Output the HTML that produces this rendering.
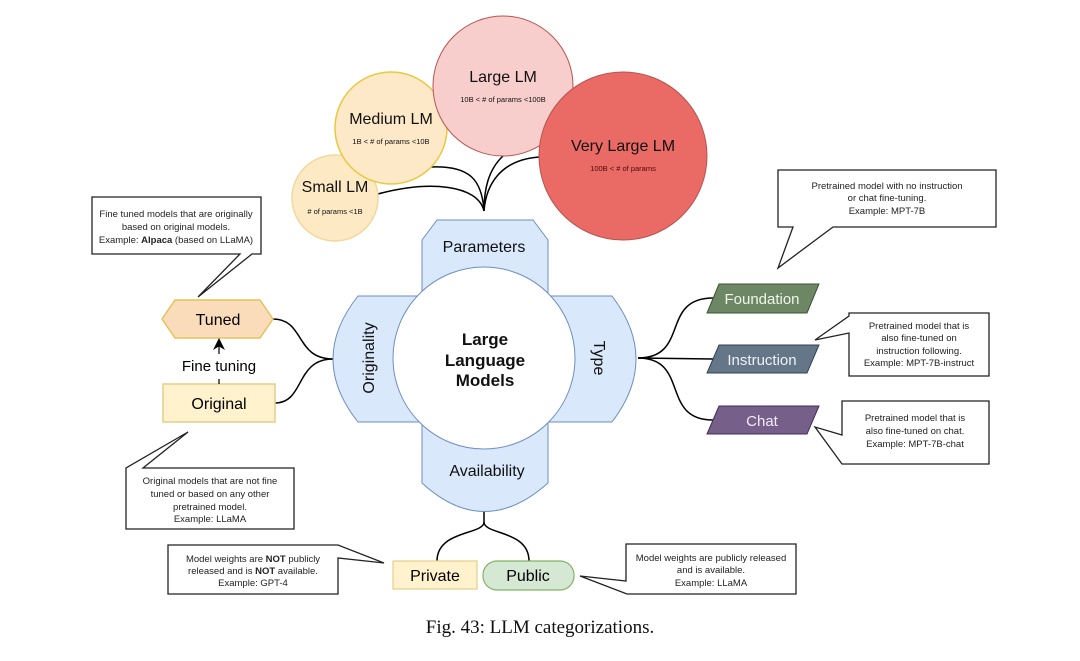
<!DOCTYPE html>
<html><head><meta charset="utf-8"><style>
html,body{margin:0;padding:0;background:#fff;}
svg{display:block;font-family:"Liberation Sans",sans-serif;}
</style></head><body>
<svg width="1080" height="661" viewBox="0 0 1080 661" xmlns="http://www.w3.org/2000/svg">
<rect width="1080" height="661" fill="#fff"/>
<defs><marker id="ah" markerWidth="10" markerHeight="10" refX="5" refY="5" orient="auto"><path d="M0,0 L10,5 L0,10 L3,5 Z" fill="#000"/></marker></defs>

<!-- parameter connectors -->
<g fill="none" stroke="#000" stroke-width="1.5">
<path d="M378,194 C430,180 478,185 484,211"/>
<path d="M430,167 C470,165 482,180 484,211"/>
<path d="M503,156 C488,170 484,190 484,211"/>
<path d="M539,157 C500,160 486,185 484,211"/>
<!-- originality -->
<path d="M273,319 C305,319 295,359 333,359"/>
<path d="M275,403 C305,403 295,359 333,359"/>
<!-- type -->
<path d="M638,358 C690,358 660,298 713,298"/>
<path d="M638,358 L713,359"/>
<path d="M638,358 C690,358 660,420 713,420"/>
<!-- availability -->
<path d="M484,511 L484,522 C484,535 437,530 437,561"/>
<path d="M484,522 C484,535 529,530 529,561"/>
</g>

<!-- circles -->
<circle cx="335" cy="198" r="43" fill="#fdeac5" stroke="#f2d89a" stroke-width="1.5"/>
<circle cx="391" cy="128" r="56" fill="#fde8c8" stroke="#e8c840" stroke-width="1.5"/>
<circle cx="503" cy="86" r="70" fill="#f8cecc" stroke="#b85450" stroke-width="1"/>
<circle cx="623" cy="156" r="84" fill="#ea6b66" stroke="#b85450" stroke-width="1"/>
<g text-anchor="middle" fill="#111">
<text x="335" y="192" font-size="16">Small LM</text>
<text x="335" y="214" font-size="7.5">#  of params &lt;1B</text>
<text x="391" y="124" font-size="16">Medium LM</text>
<text x="391" y="144" font-size="7.5">1B &lt; # of params &lt;10B</text>
<text x="503" y="82" font-size="16">Large LM</text>
<text x="503" y="102" font-size="7.5">10B &lt; # of params &lt;100B</text>
<text x="623" y="151" font-size="16">Very Large LM</text>
<text x="623" y="171" font-size="7.5" fill="#4a0a0a">100B &lt; # of params</text>
</g>

<!-- center cross -->
<path d="M437,220 L533,220 L548,240 L548,296 L612,296 Q660,359 612,422 L548,422 L548,483 Q484,540 422,483 L422,422 L358,422 Q308,359 358,296 L422,296 L422,240 Z" fill="#dae8fc" stroke="#6c8ebf" stroke-width="1"/>
<circle cx="484" cy="358" r="91" fill="#fff" stroke="#6c8ebf" stroke-width="1"/>
<g text-anchor="middle" fill="#111" font-size="16">
<text x="484" y="252">Parameters</text>
<text x="487" y="476">Availability</text>
<text transform="translate(374,358) rotate(-90)">Originality</text>
<text transform="translate(594,358) rotate(90)">Type</text>
<g font-weight="bold" font-size="17">
<text x="485" y="345">Large</text>
<text x="485" y="366">Language</text>
<text x="485" y="386">Models</text>
</g>
</g>

<!-- left nodes -->
<path d="M175,300 L260,300 L273,319 L260,338 L175,338 L162,319 Z" fill="#fbdcba" stroke="#e3c35a" stroke-width="1.5"/>
<text x="218" y="325" font-size="16" text-anchor="middle">Tuned</text>
<rect x="163" y="384" width="112" height="38" fill="#fff2cc" stroke="#e3cf8a" stroke-width="1.5"/>
<text x="219" y="409" font-size="16" text-anchor="middle">Original</text>
<line x1="219" y1="384" x2="219" y2="379" stroke="#000" stroke-width="1.2"/>
<line x1="219" y1="354" x2="219" y2="344" stroke="#000" stroke-width="1.2" marker-end="url(#ah)"/>
<text x="219" y="371" font-size="15" text-anchor="middle">Fine tuning</text>

<!-- right nodes -->
<path d="M719,284 L819,284 L807,313 L707,313 Z" fill="#6d8764" stroke="#3a5431"/>
<text x="762" y="304" font-size="15" text-anchor="middle" fill="#eef5ea">Foundation</text>
<path d="M719,345 L819,345 L807,373 L707,373 Z" fill="#647687" stroke="#314354"/>
<text x="762" y="365" font-size="15" text-anchor="middle" fill="#eef2f6">Instruction</text>
<path d="M719,406 L819,406 L807,434 L707,434 Z" fill="#76608a" stroke="#432d57"/>
<text x="762" y="426" font-size="15" text-anchor="middle" fill="#f2eaf8">Chat</text>

<!-- bottom nodes -->
<rect x="393" y="561" width="84" height="28" fill="#fff2cc" stroke="#e3cf8a" stroke-width="1.2"/>
<text x="435" y="581" font-size="16" text-anchor="middle">Private</text>
<rect x="483" y="561" width="91" height="29" rx="14" fill="#d5e8d4" stroke="#82b366" stroke-width="1.2"/>
<text x="528" y="581" font-size="16" text-anchor="middle">Public</text>

<!-- callouts -->
<g fill="#fff" stroke="#222" stroke-width="1.3">
<path d="M92,197 H261 V254 H252 L198,297 L240,254 H92 Z"/>
<path d="M126,468 L188,432 L143,468 H294 V529 H126 Z"/>
<path d="M778,170 H996 V227 H833 L778,268 L793,227 H778 Z"/>
<path d="M849,313 H989 V376 H849 V333 L815,340 L849,316 Z"/>
<path d="M842,401 H989 V464 H842 L815,427 L842,435 Z"/>
<path d="M168,545 H338 L384,563 L338,558 V594 H168 Z"/>
<path d="M626,544 H796 V594 H627 L580,576 L626,581 Z"/>
</g>
<g font-size="9.5" text-anchor="middle" fill="#222">
<text x="176" y="217">Fine tuned models that are originally</text>
<text x="176" y="230">based on original models.</text>
<text x="176" y="243">Example: <tspan font-weight="bold">Alpaca</tspan> (based on LLaMA)</text>
<text x="210" y="484">Original models that are not fine</text>
<text x="210" y="497">tuned or based on any other</text>
<text x="210" y="510">pretrained model.</text>
<text x="210" y="522">Example: LLaMA</text>
<text x="887" y="189">Pretrained model with no instruction</text>
<text x="887" y="201">or chat fine-tuning.</text>
<text x="887" y="214">Example: MPT-7B</text>
<text x="919" y="329">Pretrained model that is</text>
<text x="919" y="341">also fine-tuned on</text>
<text x="919" y="354">instruction following.</text>
<text x="919" y="366">Example: MPT-7B-instruct</text>
<text x="915" y="421">Pretrained model that is</text>
<text x="915" y="434">also fine-tuned on chat.</text>
<text x="915" y="447">Example: MPT-7B-chat</text>
<text x="253" y="562">Model weights are <tspan font-weight="bold">NOT</tspan> publicly</text>
<text x="253" y="574">released and is <tspan font-weight="bold">NOT</tspan> available.</text>
<text x="253" y="586">Example: GPT-4</text>
<text x="711" y="561">Model weights are publicly released</text>
<text x="711" y="573">and is available.</text>
<text x="711" y="586">Example: LLaMA</text>
</g>

<text x="540" y="633" font-family="'Liberation Serif',serif" font-size="19" text-anchor="middle" fill="#111">Fig. 43: LLM categorizations.</text>
</svg>
</body></html>
